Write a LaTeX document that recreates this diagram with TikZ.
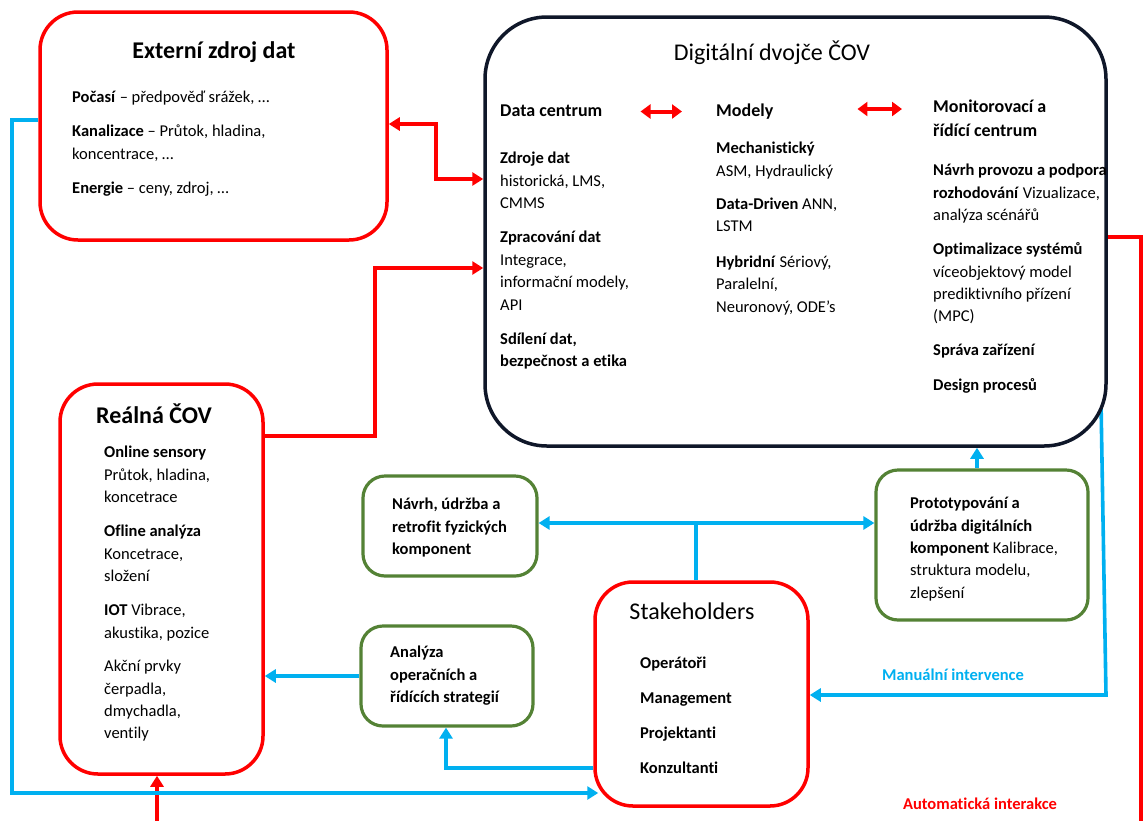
\documentclass[tikz,border=0pt]{standalone}
\usepackage{fontspec}
\setmainfont{Carlito}[Ligatures=NoCommon]
\usetikzlibrary{arrows.meta}
\definecolor{dzred}{HTML}{FF0000}
\definecolor{dzblue}{HTML}{00B0F0}
\definecolor{dzgreen}{HTML}{548235}
\definecolor{dznavy}{HTML}{0F1729}
\pgfdeclarelayer{links}
\pgfsetlayers{links,main}
\begin{document}
\begin{tikzpicture}[x=1pt,y=-1pt,
  panel/.style={draw, rectangle, fill=white, line width=3.5pt, inner sep=0pt},
  redpanel/.style={panel, draw=dzred, rounded corners=38pt},
  greenpanel/.style={panel, draw=dzgreen, line width=3.2pt, rounded corners=22pt},
  twinpanel/.style={panel, draw=dznavy, rounded corners=62pt},
  title/.style={anchor=base, inner sep=0pt, font=\fontsize{24}{28}\selectfont},
  head/.style={anchor=base west, inner sep=0pt, text height=13pt, text depth=4pt,
    font=\fontsize{18}{24}\selectfont\bfseries},
  headblock/.style={anchor=north west, inner sep=0pt, align=left,
    font=\fontsize{18}{24}\selectfont\bfseries, execute at begin node=\strut},
  body/.style={anchor=north west, inner sep=0pt, align=left,
    font=\fontsize{16.5}{22.4}\selectfont, execute at begin node=\strut},
  tag/.style={anchor=base, inner sep=0pt, font=\fontsize{16.5}{20}\selectfont\bfseries},
  redlink/.style={draw=dzred, line width=3.8pt},
  bluelink/.style={draw=dzblue, line width=3.6pt},
  tip/.style={-{Triangle[length=11pt,width=13pt]}},
  twintip/.style={{Triangle[length=11pt,width=13pt]}-{Triangle[length=11pt,width=13pt]}},
  fattwin/.style={{Triangle[length=10pt,width=14pt]}-{Triangle[length=10pt,width=14pt]}}
]
\useasboundingbox (0,0) rectangle (1144,820);

% ---- panels ----
\node[redpanel, minimum width=347pt, minimum height=228pt] (ext) at (213.5,126) {};
\node[twinpanel, minimum width=621pt, minimum height=429pt] (dt) at (795.5,231.5) {};
\node[redpanel, minimum width=203pt, minimum height=390pt] (real) at (161.5,579) {};
\node[redpanel, minimum width=213pt, minimum height=224pt] (stake) at (701.5,694) {};
\node[greenpanel, minimum width=174pt, minimum height=100pt] (gphys) at (450,526) {};
\node[greenpanel, minimum width=172pt, minimum height=100pt] (gstrat) at (447,676) {};
\node[greenpanel, minimum width=212pt, minimum height=150pt] (gdig) at (982,545) {};

% ---- external data ----
\node[title, font=\fontsize{24}{28}\selectfont\bfseries] (extT) at (214,58) {Externí zdroj dat};
\node[body] (extB) at (72,91) {\textbf{Počasí} – předpověď srážek, …\\[11.6pt]
  \textbf{Kanalizace} – Průtok, hladina,\\koncentrace, …\\[11.6pt]
  \textbf{Energie} – ceny, zdroj, …};

% ---- digital twin ----
\node[title] (dtT) at (772,60) {Digitální dvojče ČOV};
\node[head] (dcH) at (500,116) {Data centrum};
\node[head] (modH) at (716,116) {Modely};
\node[headblock] (monH) at (933,99.5) {Monitorovací a\\řídící centrum};

\node[body] (dcB) at (500,152) {\textbf{Zdroje dat}\\historická, LMS,\\CMMS\\[12pt]
  \textbf{Zpracování dat}\\Integrace,\\informační modely,\\API\\[11.5pt]
  \textbf{Sdílení dat,}\\\textbf{bezpečnost a etika}};
\node[body] (modB) at (716,142) {\textbf{Mechanistický}\\ASM, Hydraulický\\[11pt]
  \textbf{Data-Driven} ANN,\\LSTM\\[13pt]
  \textbf{Hybridní} Sériový,\\Paralelní,\\Neuronový, ODE’s};
\node[body] (monB) at (933,164) {\textbf{Návrh provozu a podpora}\\\textbf{rozhodování} Vizualizace,\\analýza scénářů\\[11.8pt]
  \textbf{Optimalizace systémů}\\víceobjektový model\\prediktivního přízení\\(MPC)\\[11.4pt]
  \textbf{Správa zařízení}\\[12.6pt]
  \textbf{Design procesů}};

% ---- real plant ----
\node[title, font=\fontsize{24}{28}\selectfont\bfseries] (realT) at (154,423) {Reálná ČOV};
\node[body] (realB) at (104,446) {\textbf{Online sensory}\\Průtok, hladina,\\koncetrace\\[11.8pt]
  \textbf{Ofline analýza}\\Koncetrace,\\složení\\[11.8pt]
  \textbf{IOT} Vibrace,\\akustika, pozice\\[11.2pt]
  Akční prvky\\čerpadla,\\dmychadla,\\ventily};

% ---- green activities ----
\node[body, font=\fontsize{16.5}{22.4}\selectfont\bfseries] (gphysB) at (392,498)
  {Návrh, údržba a\\retrofit fyzických\\komponent};
\node[body, font=\fontsize{16.5}{22.4}\selectfont\bfseries] (gstratB) at (390,646)
  {Analýza\\operačních a\\řídících strategií};
\node[body] (gdigB) at (910,497) {\textbf{Prototypování a}\\\textbf{údržba digitálních}\\
  \textbf{komponent} Kalibrace,\\struktura modelu,\\zlepšení};

% ---- stakeholders ----
\node[title] (stakeT) at (692,619) {Stakeholders};
\node[body, font=\fontsize{16.5}{22.4}\selectfont\bfseries] (stakeB) at (640,657)
  {Operátoři\\[12.6pt]Management\\[12.6pt]Projektanti\\[12.6pt]Konzultanti};

% ---- link labels ----
\node[tag, text=dzblue] (manual) at (953,680) {Manuální intervence};
\node[tag, text=dzred] (auto) at (980,809) {Automatická interakce};

% ---- connectors ----
\coordinate (split) at (696,523);
\coordinate (redout) at (1141,824);
\coordinate (redin) at (157,824);
\coordinate (mstart) at (1101,402);
\coordinate (a1) at ([xshift=38pt]dcH.east);
\coordinate (a2) at ([xshift=-34pt]modH.west);
\coordinate (a3) at ([xshift=84pt]modH.east);
\coordinate (a4) at ([xshift=-31pt]monH.west);

\begin{pgfonlayer}{links}
\fill[white] (0,0) rectangle (1144,820);
% red links
\draw[redlink, twintip] (ext.east |- 0,124) -| (436,179) -- (dt.west |- 0,179);
\draw[redlink, tip] (real.east |- 0,436) -| (375,268) -- (dt.west |- 0,268);
\draw[redlink] (dt.east |- 0,237) -| (redout);
\draw[redlink, tip] (redin) -- (redin |- real.south);
% blue links
\draw[bluelink, tip] (ext.west |- 0,120) -| (12,793) -- ([xshift=5pt]stake.west |- 0,793);
\draw[bluelink] (split |- stake.north) -- (split);
\draw[bluelink, tip] (split) -- (gphys.east |- split);
\draw[bluelink, tip] (split) -- (gdig.west |- split);
\draw[bluelink, tip] (gdig.north -| 977,0) -- (dt.south -| 977,0);
\draw[bluelink, tip] (mstart) -- (1106,695) -- (stake.east |- 0,695);
\draw[bluelink, tip] (stake.west |- 0,768) -| (gstrat.south -| 446,0);
\draw[bluelink, tip] (gstrat.west |- 0,676) -- (real.east |- 0,676);
\end{pgfonlayer}

% flow between the twin's sections
\draw[redlink, line width=4pt, fattwin] (a1) -- (a1 -| a2);
\draw[redlink, line width=4pt, fattwin] (a3 |- 0,109) -- (a4 |- 0,109);
\end{tikzpicture}
\end{document}
